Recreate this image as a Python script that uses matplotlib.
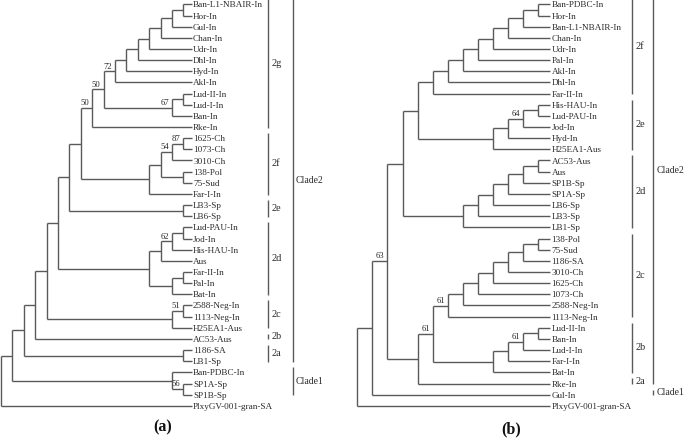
import matplotlib
matplotlib.use("Agg")
import matplotlib.pyplot as plt

plt.rcParams['font.family'] = ['Liberation Serif', 'DejaVu Serif']


def ladder(*items):
    node = items[0]
    for it in items[1:]:
        node = (node, it)
    return node

# ---------------- data: panel (a) ----------------
a_2g = ladder(ladder("Ban-L1-NBAIR-In", "Hor-In", "Gul-In", "Chan-In", "Udr-In", "Dhl-In", "Hyd-In", "Akl-In"),
              ladder("Lud-II-In", "Lud-I-In", "Ban-In"), "Rke-In")
a_2f = ((ladder("1625-Ch", "1073-Ch", "3010-Ch"), ("138-Pol", "75-Sud")), "Far-I-In")
a_2e = ("LB3-Sp", "LB6-Sp")
a_2d = (ladder("Lud-PAU-In", "Jod-In", "His-HAU-In", "Aus"), ladder("Far-II-In", "Pal-In", "Bat-In"))
a_2c = ladder("2588-Neg-In", "1113-Neg-In", "H25EA1-Aus")
a_2b = "AC53-Aus"
a_2a = ("1186-SA", "LB1-Sp")
a_clade1 = ("Ban-PDBC-In", ("SP1A-Sp", "SP1B-Sp"))
tree_a = ladder(a_2g, a_2f, a_2e, a_2d, a_2c, a_2b, a_2a, a_clade1, "PlxyGV-001-gran-SA")

boot_a = {("Ban-L1-NBAIR-In", "Akl-In"): 72, ("Ban-L1-NBAIR-In", "Ban-In"): 50,
          ("Ban-L1-NBAIR-In", "Rke-In"): 50, ("Lud-II-In", "Ban-In"): 67,
          ("1625-Ch", "1073-Ch"): 87, ("1625-Ch", "3010-Ch"): 54,
          ("Lud-PAU-In", "His-HAU-In"): 62, ("2588-Neg-In", "1113-Neg-In"): 51,
          ("SP1A-Sp", "SP1B-Sp"): 56}

groups_a = [("2g", "Ban-L1-NBAIR-In", "Rke-In"), ("2f", "1625-Ch", "Far-I-In"),
            ("2e", "LB3-Sp", "LB6-Sp"), ("2d", "Lud-PAU-In", "Bat-In"),
            ("2c", "2588-Neg-In", "H25EA1-Aus"), ("2b", "AC53-Aus", "AC53-Aus"),
            ("2a", "1186-SA", "LB1-Sp")]
clades_a = [("Clade2", "Ban-L1-NBAIR-In", "LB1-Sp"), ("Clade1", "Ban-PDBC-In", "SP1B-Sp")]

# ---------------- data: panel (b) ----------------
b_2f = ladder("Ban-PDBC-In", "Hor-In", "Ban-L1-NBAIR-In", "Chan-In", "Udr-In", "Pal-In", "Akl-In", "Dhl-In", "Far-II-In")
b_2e = ladder("His-HAU-In", "Lud-PAU-In", "Jod-In", "Hyd-In", "H25EA1-Aus")
b_2d = ladder("AC53-Aus", "Aus", "SP1B-Sp", "SP1A-Sp", "LB6-Sp", "LB3-Sp", "LB1-Sp")
b_2c = ladder("138-Pol", "75-Sud", "1186-SA", "3010-Ch", "1625-Ch", "1073-Ch", "2588-Neg-In", "1113-Neg-In")
b_2b = ladder("Lud-II-In", "Ban-In", "Lud-I-In", "Far-I-In", "Bat-In")
b_2a = "Rke-In"
tree_b = ladder((ladder(b_2f, b_2e, b_2d), ladder(b_2c, b_2b, b_2a)), "Gul-In", "PlxyGV-001-gran-SA")

boot_b = {("His-HAU-In", "Jod-In"): 64, ("138-Pol", "1113-Neg-In"): 61,
          ("138-Pol", "Bat-In"): 61, ("Lud-II-In", "Lud-I-In"): 61,
          ("Ban-PDBC-In", "Rke-In"): 63}

groups_b = [("2f", "Ban-PDBC-In", "Far-II-In"), ("2e", "His-HAU-In", "H25EA1-Aus"),
            ("2d", "AC53-Aus", "LB1-Sp"), ("2c", "138-Pol", "1113-Neg-In"),
            ("2b", "Lud-II-In", "Bat-In"), ("2a", "Rke-In", "Rke-In")]
clades_b = [("Clade2", "Ban-PDBC-In", "Rke-In"), ("Clade1", "Gul-In", "Gul-In")]

panel_titles = ["(a)", "(b)"]

# ---------------- drawing ----------------
LINE = '#5a5a5a'
TXT = '#2a2a2a'


def layout(node, leaves, nodes):
    if isinstance(node, str):
        rec = dict(h=0, y=len(leaves), first=node, last=node, kids=[], name=node)
        leaves.append(node)
    else:
        kids = [layout(c, leaves, nodes) for c in node]
        rec = dict(h=max(k['h'] for k in kids) + 1,
                   y=(kids[0]['y'] + kids[-1]['y']) / 2.0,
                   first=kids[0]['first'], last=kids[-1]['last'], kids=kids, name=None)
    nodes.append(rec)
    return rec


fig = plt.figure(figsize=(6.85, 4.4), dpi=100)
FW, FH = 685.0, 440.0


def draw_panel(tree, boot, groups, clades, title, left_px, right_px,
               x0_px, xstep, y0_px, ystep, tip_trim_px, sub_px, clade_px, title_xy,
               clade_label_idx=None):
    ax = fig.add_axes([left_px / FW, 0, (right_px - left_px) / FW, 1])
    ax.axis('off')
    ax.set_xlim((left_px - x0_px) / xstep, (right_px - x0_px) / xstep)
    ax.set_ylim((FH - y0_px) / ystep, (0 - y0_px) / ystep)
    leaves, nodes = [], []
    root = layout(tree, leaves, nodes)
    H = root['h']
    idx = {n: i for i, n in enumerate(leaves)}

    def xpos(rec):
        return H - rec['h'] - (tip_trim_px / xstep if rec['h'] == 0 else 0.0)

    for rec in nodes:
        x = xpos(rec)
        if rec['kids']:
            ax.vlines(x, rec['kids'][0]['y'], rec['kids'][-1]['y'], color=LINE, lw=1.0)
            for k in rec['kids']:
                ax.hlines(k['y'], x, xpos(k), color=LINE, lw=1.0)
            key = (rec['first'], rec['last'])
            if key in boot:
                ax.annotate(str(boot[key]), (x, rec['y']), xytext=(-2.2, 0.6),
                            textcoords='offset points', ha='right', va='bottom',
                            fontsize=6.2, color=TXT)
        else:
            ax.annotate(rec['name'], (x, rec['y']), xytext=(0.9, 0),
                        textcoords='offset points', ha='left', va='center_baseline',
                        fontsize=6.6, color=TXT)
    sx = (sub_px - x0_px) / xstep
    cx = (clade_px - x0_px) / xstep
    for lab, f, l in groups:
        y1, y2 = idx[f] - 0.45, idx[l] + 0.05
        ax.vlines(sx, y1, y2, color=LINE, lw=1.0)
        ax.annotate(lab, (sx, (y1 + y2) / 2), xytext=(2.6, 0), textcoords='offset points',
                    ha='left', va='center', fontsize=7.4, color=TXT)
    for lab, f, l in clades:
        y1, y2 = idx[f] - 0.45, idx[l] + 0.05
        ax.vlines(cx, y1, y2, color=LINE, lw=1.0)
        ym = (y1 + y2) / 2
        if clade_label_idx is not None and lab in clade_label_idx:
            ym = clade_label_idx[lab]
        ax.annotate(lab, (cx, ym), xytext=(2.3, 0), textcoords='offset points',
                    ha='left', va='center', fontsize=7.0, color=TXT)
    fig.text(title_xy[0] / FW, 1 - title_xy[1] / FH, title, ha='center', va='center',
             fontsize=11.5, fontweight='bold', color='#111111')


draw_panel(tree_a, boot_a, groups_a, clades_a, panel_titles[0], 0, 340,
           1.0, 11.4, 4.4, 11.15, 3.0, 268.3, 292.5, (162.5, 427))
draw_panel(tree_b, boot_b, groups_b, clades_b, panel_titles[1], 340, 685,
           357.3, 15.08, 4.4, 11.15, 3.0, 632.0, 653.3, (511, 429), {"Clade2": 14.9})

fig.savefig("out.png", dpi=100)
